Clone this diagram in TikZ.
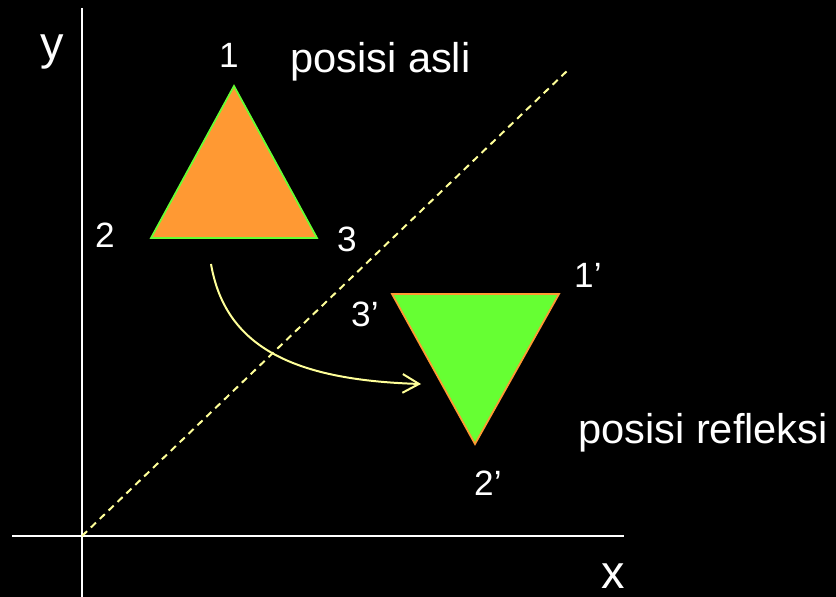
\documentclass[tikz,border=0pt]{standalone}
\usepackage{fontspec}
\setmainfont{Liberation Sans}
\usepackage{tikz}
\usetikzlibrary{arrows.meta}
\definecolor{AxisWhite}{HTML}{FFFFFF}
\definecolor{MirrorYellow}{HTML}{FFFF99}
\definecolor{OrigOrange}{HTML}{FF9933}
\definecolor{ReflGreen}{HTML}{66FF33}
\tikzset{
  axisline/.style={draw=AxisWhite,line width=1.7pt},
  mirrorline/.style={draw=MirrorYellow,line width=1.7pt,dash pattern=on 6pt off 4.5pt},
  origtri/.style={fill=OrigOrange,draw=ReflGreen,line width=1.5pt,line join=miter},
  refltri/.style={fill=ReflGreen,draw=OrigOrange,line width=1.5pt,line join=miter},
  moveedge/.style={draw=MirrorYellow,line width=1.7pt,
    -{Straight Barb[length=14pt,width=16pt,line width=1.7pt]}},
  vlabel/.style={text=white,inner sep=0pt,anchor=base west,
    font=\fontsize{30}{36}\selectfont},
  tlabel/.style={text=white,inner sep=0pt,anchor=base west,
    font=\fontsize{35.5}{42}\selectfont},
  alabel/.style={text=white,inner sep=0pt,anchor=base west,
    font=\fontsize{40}{48}\selectfont},
}
\begin{document}
\begin{tikzpicture}[x=0.03cm,y=-0.03cm]
  \useasboundingbox (0,0) rectangle (836,597);
  \fill[black] (0,0) rectangle (836,597);
  % axes
  \coordinate (o) at (82,536);
  \coordinate (ytop) at (82,8);
  \coordinate (ybot) at (82,597);
  \coordinate (xleft) at (12,536);
  \coordinate (xright) at (624,536);
  \coordinate (mend) at (568,70);
  \draw[axisline] (ytop) -- (ybot);
  \draw[axisline] (xleft) -- (xright);
  \draw[mirrorline] (o) -- (mend);
  % original triangle
  \coordinate (a1) at (234,86);
  \coordinate (a2) at (151,238);
  \coordinate (a3) at (317,238);
  \filldraw[origtri] (a1) -- (a2) -- (a3) -- cycle;
  % reflected triangle
  \coordinate (b1) at (559,294);
  \coordinate (b2) at (475,444);
  \coordinate (b3) at (392,294);
  \filldraw[refltri] (b3) -- (b1) -- (b2) -- cycle;
  % move arrow
  \coordinate (mvs) at (211,264);
  \coordinate (mve) at (421,384);
  \draw[moveedge] (mvs) .. controls (225,345) and (290,380) .. (mve);
  % labels
  \node[alabel] (ylab) at (40,60) {y};
  \node[alabel] (xlab) at (601,588) {x};
  \node[vlabel] (l1) at (219,68) {1};
  \node[vlabel] (l2) at (95,248) {2};
  \node[vlabel] (l3) at (337,252) {3};
  \node[vlabel] (l1p) at (574,288) {1’};
  \node[vlabel] (l2p) at (474,495) {2’};
  \node[vlabel] (l3p) at (351,327) {3’};
  \node[tlabel] (asli) at (290,73) {posisi asli};
  \node[tlabel] (refl) at (578,443) {posisi refleksi};
\end{tikzpicture}
\end{document}
